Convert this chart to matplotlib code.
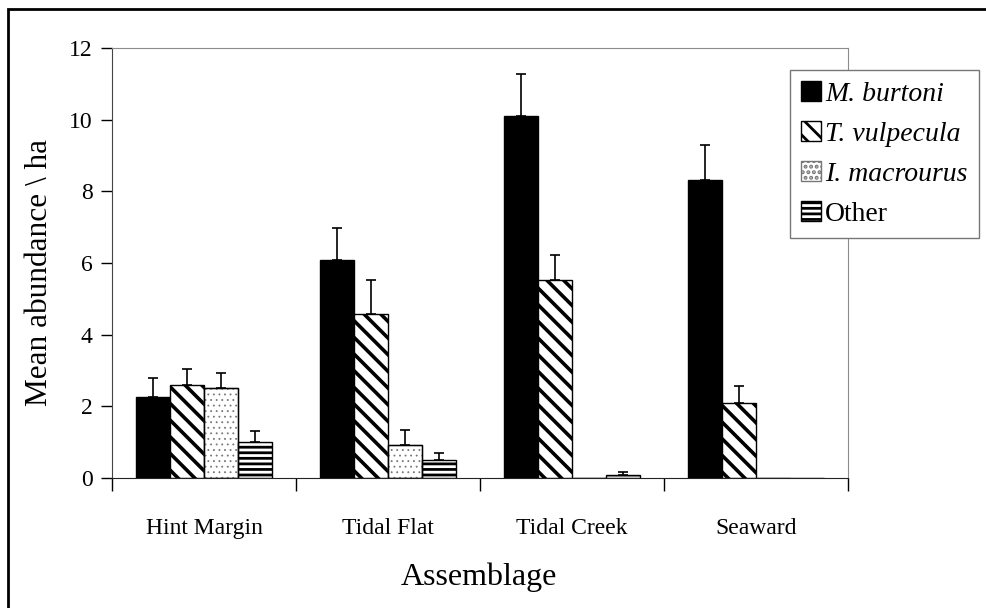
import numpy as np
import matplotlib.pyplot as plt
from matplotlib.patches import Rectangle

#- datos
grupos = ['Hint Margin', 'Tidal Flat', 'Tidal Creek', 'Seaward']
especies = ['M. burtoni', 'T. vulpecula', 'I. macrourus', 'Other']
media_mb = [2.26, 6.08, 10.10, 8.33]
media_tv = [2.59, 4.59, 5.52, 2.09]
media_im = [2.51, 0.91, 0.0, 0.0]
media_ot = [1.01, 0.51, 0.09, 0.0]
err_mb = [0.52, 0.89, 1.17, 0.97]
err_tv = [0.45, 0.93, 0.70, 0.48]
err_im = [0.42, 0.42, 0.0, 0.0]
err_ot = [0.30, 0.20, 0.07, 0.0]

medias = [media_mb, media_tv, media_im, media_ot]
errores = [err_mb, err_tv, err_im, err_ot]

plt.rcParams['font.family'] = ['Liberation Serif', 'DejaVu Serif']

fig = plt.figure(figsize=(9.86, 6.08), dpi=100)
ax = fig.add_axes([112/986, 1-478/608, 736/986, 430/608])

x = np.arange(len(grupos))
ancho = 0.185
estilos = [dict(color='black', hatch=None, hlw=1.0),
           dict(color='white', hatch='\\\\', hlw=2.6),
           dict(color='white', hatch='...', hlw=0.6),
           dict(color='white', hatch='---', hlw=2.0)]

handles = []
for i in range(4):
    pos = x + (i - 1.5)*ancho
    est = estilos[i]
    plt.rcParams['hatch.linewidth'] = est['hlw']
    ec = '#777777' if i == 2 else 'black'
    barras = ax.bar(pos, medias[i], ancho, color=est['color'], edgecolor=ec,
                    hatch=est['hatch'], linewidth=1.0, zorder=2)
    for b in barras:
        if hasattr(b, 'set_hatch_linewidth'):
            b.set_hatch_linewidth(est['hlw'])
    if i == 2:
        ax.bar(pos, medias[i], ancho, color='none', edgecolor='black', linewidth=1.0, zorder=2.1)
    handles.append(barras)
    e = np.array(errores[i])
    m = np.array(medias[i])
    ok = e > 0
    ax.errorbar(pos[ok], m[ok], yerr=[np.zeros(ok.sum()), e[ok]], fmt='none',
                ecolor='black', elinewidth=1.2, capsize=3.5, capthick=1.2, zorder=3)

ax.set_xlim(-0.5, 3.5)
ax.set_ylim(0, 12)
ax.set_yticks(range(0, 13, 2))
ax.set_xticks([-0.5, 0.5, 1.5, 2.5, 3.5])
ax.set_xticklabels([])
ax.set_xticks(x, minor=True)
ax.set_xticklabels(grupos, minor=True, fontsize=17)
ax.tick_params(axis='x', which='major', length=9, width=1, direction='out')
ax.tick_params(axis='x', which='minor', length=0, pad=29)
ax.tick_params(axis='y', length=8, width=1, labelsize=17, pad=6)

ax.spines['top'].set_color('#8c8c8c')
ax.spines['right'].set_color('#8c8c8c')
ax.spines['left'].set_color('#444444')
ax.spines['bottom'].set_color('#222222')

fig.text(40/986, 1-272/608, 'Mean abundance \\ ha', rotation=90, ha='center', va='center', fontsize=22.5)
fig.text(479/986, 1-577/608, 'Assemblage', ha='center', va='center', fontsize=23)

leg = ax.legend(handles, especies, loc='upper left', bbox_to_anchor=(0.921, 0.949),
                borderaxespad=0, fancybox=False, framealpha=1, edgecolor='#777777',
                fontsize=20, handlelength=0.72, handleheight=0.72, handletextpad=0.15,
                labelspacing=0.52, borderpad=0.4)
leg.get_frame().set_linewidth(1.0)
for t in leg.get_texts()[:3]:
    t.set_fontstyle('italic')

#- marco exterior
fig.patches.append(Rectangle((8/986, -0.05), 1.2, 1-9/608+0.05, transform=fig.transFigure,
                             fill=False, edgecolor='black', linewidth=2))

plt.savefig('out.png', dpi=100)
plt.close()
